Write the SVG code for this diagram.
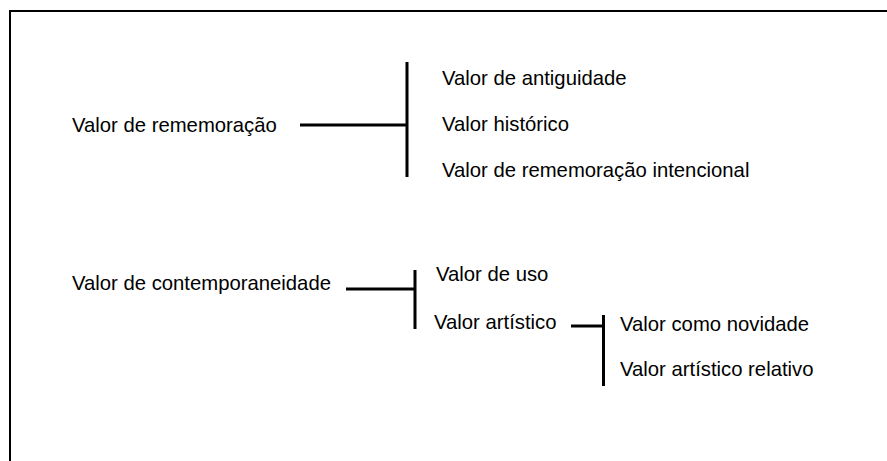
<svg xmlns="http://www.w3.org/2000/svg" width="887" height="461" viewBox="0 0 887 461">
<style>
text{font-family:"Liberation Sans",Arial,sans-serif;font-size:20.3px;fill:#000}
.c{stroke:#000;stroke-width:3;fill:none}
</style>
<rect x="0" y="0" width="887" height="461" fill="#fff"/>
<rect x="10" y="11" width="900" height="470" fill="none" stroke="#000" stroke-width="2"/>
<g id="connectors">
<path class="c" d="M300 125H407M407 62V177"/>
<path class="c" d="M346 289H415M415 270V329"/>
<path class="c" d="M571 326H603.5M603.5 315V386"/>
</g>
<g id="n-rememoracao"><text x="72" y="132">Valor de rememoração</text></g>
<g id="n-antiguidade"><text x="442" y="85">Valor de antiguidade</text></g>
<g id="n-historico"><text x="442" y="131">Valor histórico</text></g>
<g id="n-intencional"><text x="442" y="177">Valor de rememoração intencional</text></g>
<g id="n-contemporaneidade"><text x="72" y="290">Valor de contemporaneidade</text></g>
<g id="n-uso"><text x="436" y="281">Valor de uso</text></g>
<g id="n-artistico"><text x="434" y="329">Valor artístico</text></g>
<g id="n-novidade"><text x="620" y="331">Valor como novidade</text></g>
<g id="n-relativo"><text x="620" y="376">Valor artístico relativo</text></g>
</svg>
